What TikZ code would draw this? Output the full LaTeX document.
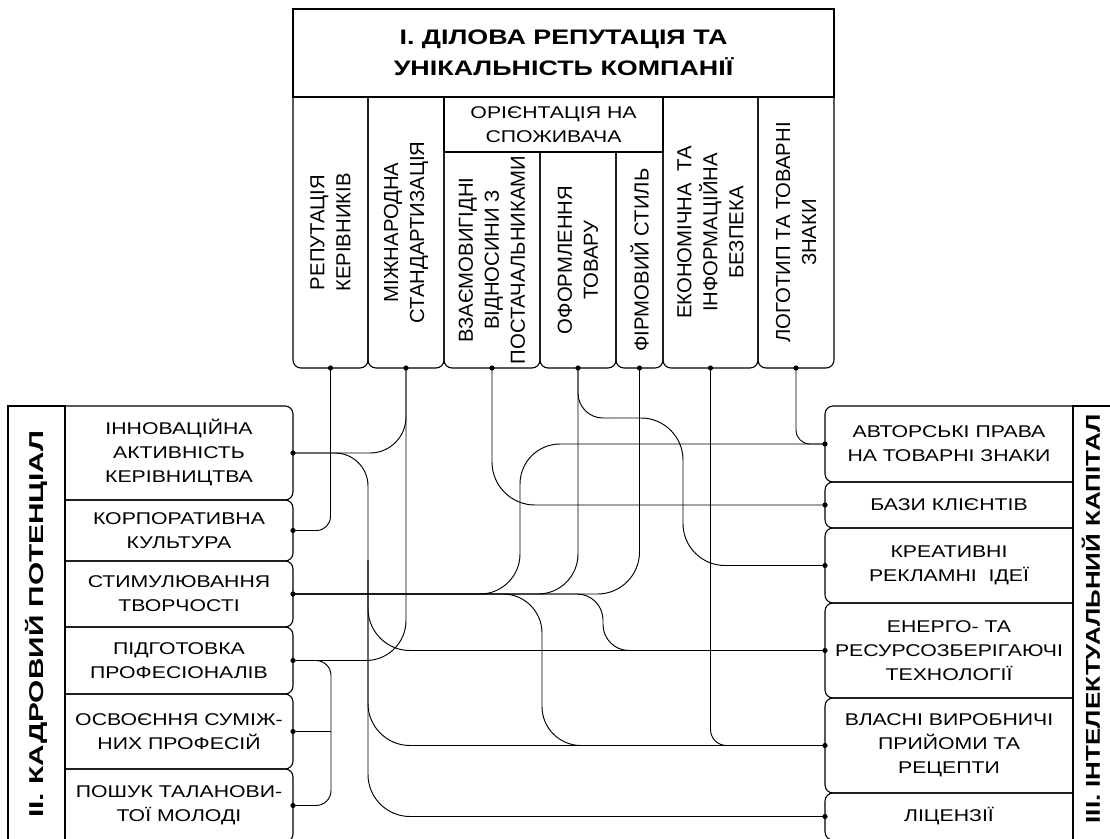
\documentclass[tikz,border=0pt]{standalone}
\usepackage{fontspec}
\setmainfont{Liberation Sans}
\newfontfamily\hfont{Liberation Sans}[FakeStretch=1.25]
\newfontfamily\tfont{Liberation Sans}[FakeStretch=1.28]
\newfontfamily\sfontL{Liberation Sans}[FakeStretch=1.49]
\newfontfamily\sfontR{Liberation Sans}[FakeStretch=1.30]
\newfontfamily\vfont{Liberation Sans}
\tikzset{
  frame/.style={draw=black, line width=1.1pt},
  conn/.style={draw=black, line width=0.95pt},
  area/.style={inner sep=0pt, outer sep=0pt, draw=none},
  lbox/.style={area, minimum width=228pt, align=center, font=\hfont\fontsize{17}{24}\selectfont},
  rbox/.style={area, minimum width=248pt, align=center, font=\hfont\fontsize{17}{24}\selectfont},
  colbox/.style={area},
  vtext/.style={area, rotate=90, align=center, font=\vfont\fontsize{20.3}{26}\selectfont},
  dot/.style={fill=black},
}
\begin{document}
\begin{tikzpicture}[x=1pt, y=-1pt]
\clip (0,0) rectangle (1110,838);
\fill[white] (0,0) rectangle (1110,838);

% ---------- top block ----------
\node[area, minimum width=541pt, minimum height=88pt, align=center,
      font=\tfont\bfseries\fontsize{21}{31.5}\selectfont] (title) at (563.5,53)
      {І. ДІЛОВА РЕПУТАЦІЯ ТА\\УНІКАЛЬНІСТЬ КОМПАНІЇ};
\draw[frame] (title.south west) rectangle (title.north east);

\node[colbox, minimum width=75pt, minimum height=271pt] (c1) at (330.5,232.5) {};
\node[colbox, minimum width=76pt, minimum height=271pt] (c2) at (406,232.5) {};
\node[area, minimum width=219pt, minimum height=55pt, align=center,
      font=\hfont\fontsize{17}{24}\selectfont] (hdr) at (553.5,124.5) {ОРІЄНТАЦІЯ НА\\СПОЖИВАЧА};
\node[colbox, minimum width=96pt, minimum height=216pt] (c3) at (492,260) {};
\node[colbox, minimum width=76pt, minimum height=216pt] (c4) at (578,260) {};
\node[colbox, minimum width=47pt, minimum height=216pt] (c5) at (639.5,260) {};
\node[colbox, minimum width=95pt, minimum height=271pt] (c6) at (710.5,232.5) {};
\node[colbox, minimum width=76pt, minimum height=271pt] (c7) at (796,232.5) {};

\draw[frame] (hdr.south west) rectangle (hdr.north east);
\foreach \c in {c1,c2,c3,c4,c5,c6,c7}{
  \draw[frame, rounded corners=8pt] (\c.north west) -- (\c.south west) -- (\c.south east) -- (\c.north east);
}

\node[vtext] (c1t) at (c1.center) {РЕПУТАЦІЯ\\КЕРІВНИКІВ};
\node[vtext] (c2t) at (c2.center) {МІЖНАРОДНА\\СТАНДАРТИЗАЦІЯ};
\node[vtext] (c3t) at (c3.center) {ВЗАЄМОВИГІДНІ\\ВІДНОСИНИ З\\ПОСТАЧАЛЬНИКАМИ};
\node[vtext] (c4t) at (c4.center) {ОФОРМЛЕННЯ\\ТОВАРУ};
\node[vtext] (c5t) at (c5.center) {ФІРМОВИЙ СТИЛЬ};
\node[vtext] (c6t) at (c6.center) {ЕКОНОМІЧНА\ \ ТА\\ІНФОРМАЦІЙНА\\БЕЗПЕКА};
\node[vtext] (c7t) at (c7.center) {ЛОГОТИП ТА ТОВАРНІ\\ЗНАКИ};

% ---------- left block ----------
\node[area, minimum width=57pt, minimum height=440pt] (lt) at (36.5,626) {};
\draw[frame] (lt.south west) rectangle (lt.north east);
\node[area, rotate=90, font=\sfontL\bfseries\fontsize{20}{24}\selectfont] (ltt) at (36.5,624) {ІІ. КАДРОВИЙ ПОТЕНЦІАЛ};

\node[lbox, minimum height=94pt] (l1) at (179,453) {ІННОВАЦІЙНА\\АКТИВНІСТЬ\\КЕРІВНИЦТВА};
\node[lbox, minimum height=61pt] (l2) at (179,530.5) {КОРПОРАТИВНА\\КУЛЬТУРА};
\node[lbox, minimum height=66pt] (l3) at (179,594) {СТИМУЛЮВАННЯ\\ТВОРЧОСТІ};
\node[lbox, minimum height=67pt] (l4) at (179,660.5) {ПІДГОТОВКА\\ПРОФЕСІОНАЛІВ};
\node[lbox, minimum height=75pt] (l5) at (179,731.5) {ОСВОЄННЯ СУМІЖ-\\НИХ ПРОФЕСІЙ};
\node[lbox, minimum height=73pt] (l6) at (179,805.5) {ПОШУК ТАЛАНОВИ-\\ТОЇ МОЛОДІ};
\foreach \b in {l1,l2,l3,l4,l5,l6}{
  \draw[frame, rounded corners=8pt] (\b.north west) -- (\b.north east) -- (\b.south east) -- (\b.south west);
}

% ---------- right block ----------
\node[area, minimum width=42pt, minimum height=440pt] (rt) at (1094,626) {};
\draw[frame] (rt.south west) rectangle (rt.north east);
\node[area, rotate=90, font=\sfontR\bfseries\fontsize{20}{24}\selectfont] (rtt) at (1091,619) {ІІІ. ІНТЕЛЕКТУАЛЬНИЙ КАПІТАЛ};

\node[rbox, minimum height=76pt] (r1) at (949,444) {АВТОРСЬКІ ПРАВА\\НА ТОВАРНІ ЗНАКИ};
\node[rbox, minimum height=46pt] (r2) at (949,505) {БАЗИ КЛІЄНТІВ};
\node[rbox, minimum height=75pt] (r3) at (949,565.5) {КРЕАТИВНІ\\РЕКЛАМНІ\ \ ІДЕЇ};
\node[rbox, minimum height=95pt] (r4) at (949,650.5) {ЕНЕРГО- ТА\\РЕСУРСОЗБЕРІГАЮЧІ\\ТЕХНОЛОГІЇ};
\node[rbox, minimum height=95pt] (r5) at (949,745.5) {ВЛАСНІ ВИРОБНИЧІ\\ПРИЙОМИ ТА\\РЕЦЕПТИ};
\node[rbox, minimum height=47pt] (r6) at (949,816.5) {ЛІЦЕНЗІЇ};
\foreach \b in {r1,r2,r3,r4,r5,r6}{
  \draw[frame, rounded corners=8pt] (\b.north east) -- (\b.north west) -- (\b.south west) -- (\b.south east);
}

% ---------- helper coordinates ----------
\coordinate (trunk) at (368,560);
\coordinate (x520) at (520,0);
\coordinate (x542) at (542,0);
\coordinate (x603) at (603,0);
\coordinate (x683) at (683,0);
\coordinate (xb) at (331,0);
\coordinate (s0) at (612,418);

% ---------- connectors ----------
\draw[conn, rounded corners=14pt] (c1.south) |- (l2.east);
\draw[conn, rounded corners=36pt] (c2.south) |- (l1.east);
\draw[conn, rounded corners=40pt] (c2.south) |- (l4.east);

\draw[conn, rounded corners=33pt] (l1.east) -| (trunk);
\draw[conn, rounded corners=42pt] (trunk) |- (r4.west);
\draw[conn, rounded corners=42pt] (trunk) |- (r5.west);
\draw[conn, rounded corners=42pt] (trunk) |- (r6.west);

\draw[conn, rounded corners=40pt] (l3.east) -| (c4.south);
\draw[conn, rounded corners=42pt] (l3.east) -| (c5.south);
\draw[conn, rounded corners=40pt] (l3.east) -| (x520 |- r1.west) -- (r1.west);
\draw[conn, rounded corners=39pt] (l3.east) -| (x542 |- r5.west) -- (r5.west);
\draw[conn, rounded corners=26pt] (l3.east) -| (x603 |- r4.west) -- (r4.west);

\draw[conn, rounded corners=43pt] (c3.south) |- (r2.west);
\draw[conn, rounded corners=25pt] (c4.south) |- (s0);
\draw[conn, rounded corners=42pt] (s0) -| (x683 |- r3.west) -- (r3.west);
\draw[conn, rounded corners=16pt] (c6.south) |- (r5.west);
\draw[conn, rounded corners=14pt] (c7.south) |- (r1.west);

\draw[conn, rounded corners=15pt] (l4.east) -| (xb |- l6.east) -- (l6.east);
\draw[conn] (l5.east) -- (l5.east -| xb);

% ---------- dots ----------
\foreach \c in {c1,c2,c3,c4,c5,c6,c7}{ \fill[dot] (\c.south) circle (2.6pt); }
\foreach \b in {l1,l2,l3,l4,l5,l6}{ \fill[dot] (\b.east) circle (2.6pt); }
\foreach \b in {r1,r2,r3,r4,r5,r6}{ \fill[dot] (\b.west) circle (2.6pt); }
\end{tikzpicture}
\end{document}
